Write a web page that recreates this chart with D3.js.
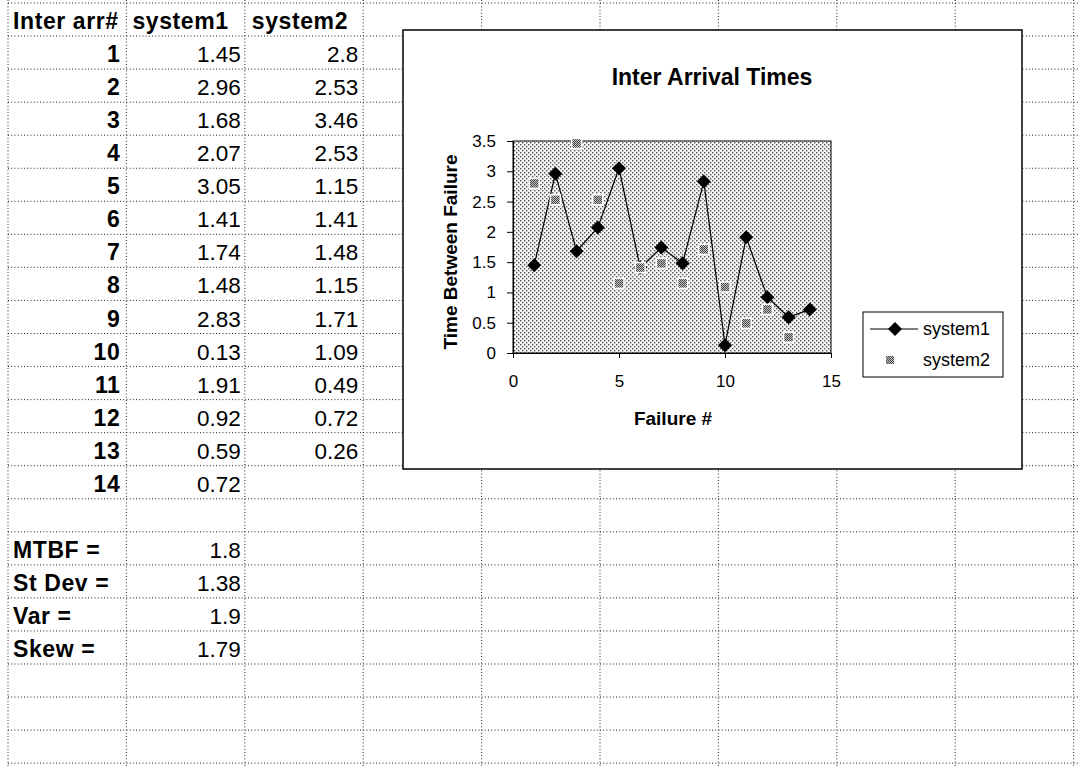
<!DOCTYPE html>
<html>
<head>
<meta charset="utf-8">
<script src="https://cdn.jsdelivr.net/npm/d3@7"></script>
<style>
  html, body { margin: 0; padding: 0; background: #fff; }
  svg { display: block; }
  text { font-family: "Liberation Sans", Arial, sans-serif; fill: #000; }
</style>
</head>
<body>
<svg id="chart" width="1078" height="767"></svg>
<script>
// ---------- data ----------
const failureNums = [1, 2, 3, 4, 5, 6, 7, 8, 9, 10, 11, 12, 13, 14];
const system1 = [1.45, 2.96, 1.68, 2.07, 3.05, 1.41, 1.74, 1.48, 2.83, 0.13, 1.91, 0.92, 0.59, 0.72];
const system2 = [2.8, 2.53, 3.46, 2.53, 1.15, 1.41, 1.48, 1.15, 1.71, 1.09, 0.49, 0.72, 0.26];
const headers = ["Inter arr#", "system1", "system2"];
const statLabels = ["MTBF =", "St Dev =", "Var =", "Skew ="];
const statValues = ["1.8", "1.38", "1.9", "1.79"];
const yTicks = [0, 0.5, 1, 1.5, 2, 2.5, 3, 3.5];
const xTicks = [0, 5, 10, 15];
const chartTitle = "Inter Arrival Times";
const xTitle = "Failure #";
const yTitle = "Time Between Failure";
const seriesNames = ["system1", "system2"];

// ---------- layout ----------
const W = 1078, H = 767;
const svg = d3.select("#chart");
svg.append("rect").attr("width", W).attr("height", H).attr("fill", "#fff");

const defs = svg.append("defs");
const dots = defs.append("pattern").attr("id", "dots").attr("patternUnits", "userSpaceOnUse")
  .attr("width", 4).attr("height", 4);
dots.append("rect").attr("width", 4).attr("height", 4).attr("fill", "#f6f6f6");
dots.append("rect").attr("x", 0).attr("y", 0).attr("width", 1.4).attr("height", 1.4).attr("fill", "#555");
dots.append("rect").attr("x", 2).attr("y", 2).attr("width", 1.4).attr("height", 1.4).attr("fill", "#555");

const xh = defs.append("pattern").attr("id", "xhatch").attr("patternUnits", "userSpaceOnUse")
  .attr("width", 2).attr("height", 2);
xh.append("rect").attr("width", 2).attr("height", 2).attr("fill", "#c4c4c4");
xh.append("rect").attr("width", 1).attr("height", 1).attr("fill", "#444");
xh.append("rect").attr("x", 1).attr("y", 1).attr("width", 1).attr("height", 1).attr("fill", "#444");

// spreadsheet grid
const rowH = 33.05, row0 = 3, nRows = 24;
const colW = 118.4, col0 = 8, nCols = 10;
const grid = svg.append("g").attr("stroke", "#222").attr("stroke-width", 1)
  .attr("stroke-dasharray", "1,2.2");
d3.range(nRows).forEach(i => {
  grid.append("line").attr("x1", col0).attr("x2", W).attr("y1", row0 + i * rowH).attr("y2", row0 + i * rowH);
});
d3.range(nCols).forEach(k => {
  grid.append("line").attr("x1", col0 + k * colW).attr("x2", col0 + k * colW).attr("y1", 0).attr("y2", H);
});

// table text
const tbl = svg.append("g");
const baseY = i => row0 + (i + 1) * rowH - 7;
const bold = (sel) => sel.attr("font-size", 23).attr("font-weight", "bold").attr("letter-spacing", 0.6);
bold(tbl.append("text").attr("x", 13).attr("y", baseY(0))).text(headers[0]);
bold(tbl.append("text").attr("x", col0 + colW + 6).attr("y", baseY(0))).text(headers[1]);
bold(tbl.append("text").attr("x", col0 + 2 * colW + 7).attr("y", baseY(0))).text(headers[2]);
failureNums.forEach((n, i) => {
  bold(tbl.append("text").attr("x", col0 + colW - 6).attr("y", baseY(i + 1)).attr("text-anchor", "end")).text(n);
  tbl.append("text").attr("x", col0 + 2 * colW - 4).attr("y", baseY(i + 1)).attr("text-anchor", "end")
    .attr("font-size", 22.5).text(String(system1[i]));
  if (i < system2.length) {
    tbl.append("text").attr("x", col0 + 3 * colW - 5).attr("y", baseY(i + 1)).attr("text-anchor", "end")
      .attr("font-size", 22.5).text(String(system2[i]));
  }
});
statLabels.forEach((s, j) => {
  const r = 16 + j;
  bold(tbl.append("text").attr("x", 13).attr("y", baseY(r))).text(s);
  tbl.append("text").attr("x", col0 + 2 * colW - 4).attr("y", baseY(r)).attr("text-anchor", "end")
    .attr("font-size", 22.5).text(statValues[j]);
});

// ---------- chart box ----------
const box = { x: 403, y: 30, w: 619, h: 439 };
svg.append("rect").attr("x", box.x).attr("y", box.y).attr("width", box.w).attr("height", box.h)
  .attr("fill", "#fff").attr("stroke", "#000").attr("stroke-width", 1.5);

svg.append("text").attr("x", 712).attr("y", 85).attr("text-anchor", "middle")
  .attr("font-size", 23).attr("font-weight", "bold").text(chartTitle);

const plot = { x0: 513, x1: 831, y0: 141, y1: 353 };
const x = d3.scaleLinear().domain([0, 15]).range([plot.x0, plot.x1]);
const y = d3.scaleLinear().domain([0, 3.5]).range([plot.y1, plot.y0]);

svg.append("rect").attr("x", plot.x0).attr("y", plot.y0).attr("width", plot.x1 - plot.x0)
  .attr("height", plot.y1 - plot.y0).attr("fill", "url(#dots)").attr("stroke", "#000").attr("stroke-width", 1);

const yAxis = svg.append("g").attr("transform", `translate(${plot.x0},0)`)
  .call(d3.axisLeft(y).tickValues(yTicks).tickFormat(d => String(d)).tickSize(6).tickSizeOuter(0).tickPadding(11));
const xAxis = svg.append("g").attr("transform", `translate(0,${plot.y1})`)
  .call(d3.axisBottom(x).tickValues(xTicks).tickFormat(d => String(d)).tickSize(5).tickSizeOuter(0).tickPadding(17));
[yAxis, xAxis].forEach(a => {
  a.selectAll("text").attr("font-size", 17).attr("font-family", "\"Liberation Sans\", Arial, sans-serif").attr("fill", "#000");
  a.selectAll("line, path").attr("stroke", "#000");
});

svg.append("text").attr("transform", "translate(457,252) rotate(-90)").attr("text-anchor", "middle")
  .attr("font-size", 19).attr("font-weight", "bold").text(yTitle);
svg.append("text").attr("x", 673).attr("y", 425).attr("text-anchor", "middle")
  .attr("font-size", 19).attr("font-weight", "bold").text(xTitle);

// series 1 line + diamonds
const pts1 = failureNums.map((n, i) => [n, system1[i]]);
const pts2 = system2.map((v, i) => [failureNums[i], v]);
svg.append("path").datum(pts1)
  .attr("d", d3.line().x(d => x(d[0])).y(d => y(d[1])))
  .attr("fill", "none").attr("stroke", "#000").attr("stroke-width", 1.2);
const diamond = r => `M0,${-r}L${r},0L0,${r}L${-r},0Z`;
svg.append("g").selectAll("path").data(pts1).join("path")
  .attr("transform", d => `translate(${x(d[0])},${y(d[1])})`)
  .attr("d", diamond(7)).attr("fill", "#000");

// series 2 markers
svg.append("g").selectAll("rect").data(pts2).join("rect")
  .attr("x", d => x(d[0]) - 5).attr("y", d => y(d[1]) - 5)
  .attr("width", 10).attr("height", 10)
  .attr("fill", "url(#xhatch)").attr("stroke", "#fff").attr("stroke-width", 1.5);

// legend
const lg = svg.append("g");
lg.append("rect").attr("x", 863).attr("y", 312).attr("width", 140).attr("height", 65)
  .attr("fill", "#fff").attr("stroke", "#000").attr("stroke-width", 1);
lg.append("line").attr("x1", 870).attr("x2", 918).attr("y1", 329).attr("y2", 329).attr("stroke", "#000").attr("stroke-width", 1.2);
lg.append("path").attr("transform", "translate(895,329)").attr("d", diamond(7)).attr("fill", "#000");
lg.append("rect").attr("x", 886).attr("y", 356).attr("width", 8).attr("height", 8).attr("fill", "url(#xhatch)");
lg.append("text").attr("x", 923).attr("y", 335).attr("font-size", 18).text(seriesNames[0]);
lg.append("text").attr("x", 923).attr("y", 366).attr("font-size", 18).text(seriesNames[1]);
</script>
</body>
</html>
